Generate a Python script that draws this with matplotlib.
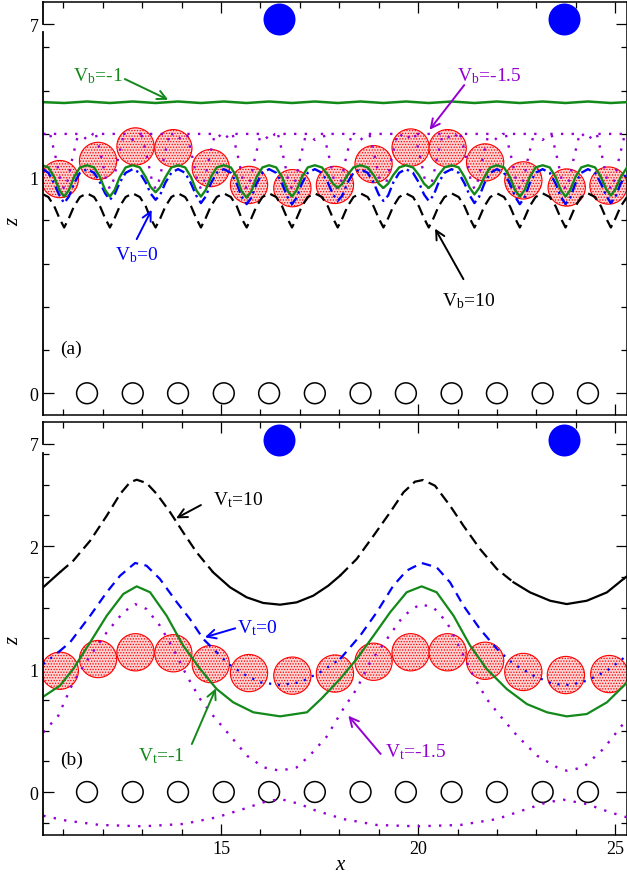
import numpy as np
import matplotlib.pyplot as plt

plt.rcParams['font.family'] = ['Liberation Serif', 'DejaVu Serif']
plt.rcParams['mathtext.fontset'] = 'custom'
plt.rcParams['mathtext.rm'] = 'Liberation Serif'
plt.rcParams['mathtext.it'] = 'Liberation Serif:italic'
plt.rcParams['hatch.color'] = '#ff0000'
plt.rcParams['hatch.linewidth'] = 0.6

nan = np.nan
GREEN = '#13891a'
BLUE = '#0000ff'
PURPLE = '#9400d3'
RED = '#ff0000'

# substrate sites (open circles, z=0) and tip (blue)
sub_x = [11.60, 12.76, 13.91, 15.07, 16.22, 17.38, 18.54, 19.69, 20.85, 22.00, 23.16, 24.31]
tip_x = [16.47, 23.70]
tip_za = 1.731
tip_zb = 2.864

# red particles
part_xa = [10.91, 11.88, 12.83, 13.79, 14.74, 15.71, 16.81, 17.89, 18.87, 19.81, 20.75, 21.70, 22.67, 23.77, 24.83]
part_za = [0.991, 1.075, 1.142, 1.134, 1.042, 0.964, 0.949, 0.964, 1.06, 1.137, 1.134, 1.068, 0.985, 0.952, 0.961]
part_xb = [10.91, 11.88, 12.83, 13.79, 14.74, 15.71, 16.81, 17.89, 18.87, 19.81, 20.75, 21.70, 22.67, 23.75, 24.85]
part_zb = [0.986, 1.081, 1.136, 1.128, 1.04, 0.967, 0.946, 0.963, 1.059, 1.136, 1.136, 1.067, 0.976, 0.951, 0.959]

# ---- panel (a) interfaces ----
xa = [10.49, 10.62, 10.77, 10.90, 11.02, 11.14, 11.27, 11.42, 11.60,
      11.78, 11.93, 12.06, 12.18, 12.30, 12.43, 12.58, 12.76,
      12.94, 13.09, 13.21, 13.34, 13.46, 13.59, 13.74, 13.91,
      14.09, 14.24, 14.37, 14.49, 14.61, 14.74, 14.89, 15.07,
      15.25, 15.40, 15.52, 15.65, 15.77, 15.90, 16.05, 16.22,
      16.40, 16.55, 16.68, 16.80, 16.92, 17.05, 17.20, 17.38,
      17.56, 17.71, 17.84, 17.96, 18.08, 18.21, 18.36, 18.54,
      18.72, 18.87, 19.00, 19.12, 19.24, 19.37, 19.52, 19.69,
      19.87, 20.02, 20.15, 20.27, 20.39, 20.52, 20.67, 20.85,
      21.03, 21.18, 21.31, 21.43, 21.55, 21.68, 21.83, 22.00,
      22.18, 22.33, 22.46, 22.58, 22.70, 22.83, 22.98, 23.16,
      23.34, 23.49, 23.62, 23.74, 23.86, 23.99, 24.14, 24.31,
      24.49, 24.64, 24.77, 24.89, 25.01, 25.14, 25.30]

za_green = [1.053, 1.045, 1.00, 0.94, 0.91, 0.94, 1.00, 1.045, 1.055,
            1.045, 1.00, 0.94, 0.91, 0.94, 1.00, 1.045, 1.055,
            1.045, 1.00, 0.955, 0.93, 0.955, 1.00, 1.045, 1.055,
            1.045, 1.00, 0.94, 0.91, 0.94, 1.00, 1.045, 1.055,
            1.045, 1.00, 0.935, 0.905, 0.935, 1.00, 1.045, 1.055,
            1.045, 1.00, 0.94, 0.91, 0.94, 1.00, 1.045, 1.055,
            1.045, 1.01, 0.97, 0.95, 0.97, 1.01, 1.045, 1.055,
            1.045, 1.01, 0.97, 0.95, 0.97, 1.01, 1.045, 1.055,
            1.045, 1.01, 0.97, 0.95, 0.97, 1.01, 1.045, 1.055,
            1.045, 1.00, 0.95, 0.92, 0.95, 1.00, 1.045, 1.055,
            1.045, 1.00, 0.94, 0.91, 0.94, 1.00, 1.045, 1.055,
            1.045, 1.00, 0.94, 0.91, 0.94, 1.00, 1.045, 1.055,
            1.045, 1.00, 0.945, 0.915, 0.945, 1.00, 1.045]

za_blue = [1.035, 1.02, 0.97, 0.915, 0.88, 0.91, 0.97, 1.02, 1.037,
           1.02, 0.975, 0.925, 0.895, 0.92, 0.975, 1.02, 1.037,
           1.02, 0.975, 0.925, 0.895, 0.92, 0.975, 1.02, 1.037,
           1.02, 0.97, 0.915, 0.88, 0.91, 0.97, 1.02, 1.037,
           1.02, 0.97, 0.91, 0.875, 0.905, 0.97, 1.02, 1.037,
           1.02, 0.97, 0.91, 0.875, 0.905, 0.97, 1.02, 1.037,
           1.02, 0.975, 0.92, 0.89, 0.915, 0.975, 1.02, 1.037,
           1.02, 0.975, 0.92, 0.89, 0.915, 0.975, 1.02, 1.037,
           1.02, 0.975, 0.92, 0.89, 0.915, 0.975, 1.02, 1.037,
           1.02, 0.97, 0.915, 0.88, 0.91, 0.97, 1.02, 1.037,
           1.02, 0.97, 0.91, 0.875, 0.905, 0.97, 1.02, 1.037,
           1.02, 0.97, 0.91, 0.875, 0.905, 0.97, 1.02, 1.037,
           1.02, 0.97, 0.915, 0.88, 0.91, 0.97, 1.02]

za_black = [0.92, 0.908, 0.865, 0.81, 0.767, 0.81, 0.865, 0.908, 0.925,
            0.908, 0.865, 0.81, 0.767, 0.81, 0.865, 0.908, 0.925,
            0.908, 0.865, 0.81, 0.767, 0.81, 0.865, 0.908, 0.925,
            0.908, 0.865, 0.81, 0.767, 0.81, 0.865, 0.908, 0.925,
            0.908, 0.865, 0.81, 0.767, 0.81, 0.865, 0.908, 0.925,
            0.908, 0.865, 0.81, 0.767, 0.81, 0.865, 0.908, 0.925,
            0.908, 0.865, 0.81, 0.767, 0.81, 0.865, 0.908, 0.925,
            0.908, 0.865, 0.81, 0.767, 0.81, 0.865, 0.908, 0.925,
            0.908, 0.865, 0.81, 0.767, 0.81, 0.865, 0.908, 0.925,
            0.908, 0.865, 0.81, 0.767, 0.81, 0.865, 0.908, 0.925,
            0.908, 0.865, 0.81, 0.767, 0.81, 0.865, 0.908, 0.925,
            0.908, 0.865, 0.81, 0.767, 0.81, 0.865, 0.908, 0.925,
            0.908, 0.865, 0.81, 0.767, 0.81, 0.865, 0.908]

# V_b=-1 : flat interface high up
xa_gtop = [10.49, 11.02, 11.60, 12.18, 12.76, 13.34, 13.91, 14.49, 15.07, 15.65, 16.22, 16.80, 17.38,
           17.96, 18.54, 19.12, 19.69, 20.27, 20.85, 21.43, 22.00, 22.58, 23.16, 23.74, 24.31, 24.89, 25.30]
za_gtop = [1.347, 1.343, 1.350, 1.343, 1.350, 1.343, 1.350, 1.343, 1.350, 1.343, 1.350, 1.343, 1.350,
           1.343, 1.350, 1.343, 1.350, 1.343, 1.350, 1.343, 1.350, 1.343, 1.350, 1.343, 1.350, 1.343, 1.347]

# V_b=-1.5 : upper branch and lower loops
xa_ptop = [10.49, 11.45, 11.60, 11.75, 12.61, 12.76, 12.91, 13.76, 13.91, 14.06, 14.92, 15.07, 15.22,
           16.07, 16.22, 16.37, 17.23, 17.38, 17.53, 18.39, 18.54, 18.69, 19.54, 19.69, 19.84,
           20.70, 20.85, 21.00, 21.85, 22.00, 22.15, 23.01, 23.16, 23.31, 24.16, 24.31, 24.46, 25.30]
za_ptop = [1.20, 1.20, 1.172, 1.20, 1.20, 1.172, 1.20, 1.20, 1.172, 1.20, 1.20, 1.172, 1.20,
           1.20, 1.172, 1.20, 1.20, 1.172, 1.20, 1.20, 1.172, 1.20, 1.20, 1.172, 1.20,
           1.20, 1.172, 1.20, 1.20, 1.172, 1.20, 1.20, 1.172, 1.20, 1.20, 1.172, 1.20, 1.20]

xa_ploop = [10.67, 10.82, 10.92, 11.02, 11.12, 11.22, 11.37, nan,
            11.83, 11.98, 12.08, 12.18, 12.28, 12.38, 12.53, nan,
            12.99, 13.14, 13.24, 13.34, 13.44, 13.54, 13.69, nan,
            14.14, 14.29, 14.39, 14.49, 14.59, 14.69, 14.84, nan,
            15.30, 15.45, 15.55, 15.65, 15.75, 15.85, 16.00, nan,
            16.45, 16.60, 16.70, 16.80, 16.90, 17.00, 17.15, nan,
            17.61, 17.76, 17.86, 17.96, 18.06, 18.16, 18.31, nan,
            18.77, 18.92, 19.02, 19.12, 19.22, 19.32, 19.47, nan,
            19.92, 20.07, 20.17, 20.27, 20.37, 20.47, 20.62, nan,
            21.08, 21.23, 21.33, 21.43, 21.53, 21.63, 21.78, nan,
            22.23, 22.38, 22.48, 22.58, 22.68, 22.78, 22.93, nan,
            23.39, 23.54, 23.64, 23.74, 23.84, 23.94, 24.09, nan,
            24.54, 24.69, 24.79, 24.89, 24.99, 25.09, 25.24]
za_ploop = [1.195, 1.08, 0.99, 0.945, 0.99, 1.08, 1.195, nan] * 12 + [1.195, 1.08, 0.99, 0.945, 0.99, 1.08, 1.195]

# ---- panel (b) interfaces ----
xb_black = [10.49, 10.91, 11.25, 11.68, 12.10, 12.44, 12.69, 12.86, 13.11, 13.37, 13.71, 14.04, 14.38, 14.80,
            15.23, 15.65, 16.07, 16.50, 16.92, 17.34, 17.72, 18.02, 18.44, 18.87, 19.29, 19.63, 19.92, 20.13,
            20.43, 20.81, 21.15, 21.57, 22.00, 22.42, 22.84, 23.35, 23.77, 24.28, 24.79, 25.21, 25.30]
zb_black = [1.665, 1.786, 1.88, 2.043, 2.246, 2.423, 2.518, 2.539, 2.512, 2.423, 2.274, 2.111, 1.949, 1.786,
            1.664, 1.583, 1.537, 1.523, 1.542, 1.596, 1.677, 1.759, 1.894, 2.084, 2.274, 2.437, 2.523, 2.537,
            2.49, 2.328, 2.165, 1.976, 1.813, 1.705, 1.623, 1.555, 1.528, 1.555, 1.623, 1.732, 1.755]

xb_blue = [10.49, 10.87, 11.17, 11.68, 12.10, 12.44, 12.82, 13.11, 13.45, 13.88, 14.21, 14.55, 14.89, 15.19,
           15.57, 15.99, 16.50, 17.01, 17.51, 18.02, 18.53, 18.95, 19.37, 19.71, 20.09, 20.47, 20.81, 21.15,
           21.57, 22.00, 22.42, 22.93, 23.43, 23.86, 24.28, 24.79, 25.30]
zb_blue = [1.04, 1.136, 1.217, 1.433, 1.624, 1.759, 1.862, 1.84, 1.732, 1.542, 1.407, 1.244, 1.136, 1.041,
           0.959, 0.892, 0.870, 0.892, 0.973, 1.081, 1.271, 1.461, 1.677, 1.80, 1.862, 1.827, 1.705, 1.515,
           1.325, 1.163, 1.041, 0.946, 0.878, 0.870, 0.905, 0.986, 1.11]

xb_green = [10.49, 10.91, 11.25, 11.68, 12.10, 12.52, 12.86, 13.20, 13.62, 14.04, 14.47, 14.89, 15.31, 15.82,
            16.50, 17.18, 17.55, 18.02, 18.44, 18.87, 19.29, 19.71, 20.09, 20.47, 20.90, 21.32, 21.74, 22.25,
            22.76, 23.27, 23.77, 24.28, 24.79, 25.30]
zb_green = [0.775, 0.864, 1.0, 1.217, 1.433, 1.61, 1.672, 1.624, 1.433, 1.19, 1.0, 0.837, 0.729, 0.648,
            0.615, 0.648, 0.76, 0.919, 1.081, 1.271, 1.461, 1.624, 1.672, 1.624, 1.433, 1.19, 1.0, 0.837,
            0.715, 0.648, 0.615, 0.634, 0.729, 0.89]

xb_pup = [10.49, 10.87, 11.25, 11.68, 12.10, 12.52, 12.82, 13.11, 13.45, 13.79, 14.13, 14.47, 14.80, 15.23,
          15.66, 16.08, 16.50, 16.92, 17.26, 17.68, 18.10, 18.44, 18.78, 19.21, 19.63, 20.05, 20.39, 20.73,
          21.07, 21.40, 21.74, 22.08, 22.51, 23.02, 23.53, 23.77, 24.19, 24.70, 25.30]
zb_pup = [0.485, 0.62, 0.892, 1.108, 1.298, 1.461, 1.528, 1.488, 1.352, 1.163, 0.946, 0.756, 0.62, 0.458,
          0.295, 0.20, 0.173, 0.20, 0.30, 0.45, 0.675, 0.837, 1.054, 1.244, 1.433, 1.528, 1.50, 1.38,
          1.163, 0.946, 0.756, 0.62, 0.458, 0.295, 0.20, 0.173, 0.20, 0.35, 0.593]

xb_plo = [10.49, 11.08, 11.93, 13.03, 14.04, 14.89, 15.57, 16.07, 16.50, 17.01, 17.30, 18.10, 18.95, 19.97,
          21.07, 22.00, 22.76, 23.27, 23.69, 24.28, 24.87, 25.30]
zb_plo = [-0.193, -0.233, -0.268, -0.279, -0.26, -0.206, -0.138, -0.084, -0.057, -0.098, -0.14, -0.22,
          -0.268, -0.279, -0.268, -0.22, -0.138, -0.084, -0.063, -0.098, -0.165, -0.206]


def two_style(ax, x, z, thr, ls_hi, ls_lo, color, lw):
    # style changes with height of the interface
    x = np.asarray(x)
    z = np.asarray(z)
    seg_hi = (z[:-1] + z[1:]) / 2 >= thr
    hi = np.zeros(len(z), bool)
    hi[:-1] |= seg_hi
    hi[1:] |= seg_hi
    lo = np.zeros(len(z), bool)
    lo[:-1] |= ~seg_hi
    lo[1:] |= ~seg_hi
    ax.plot(x, np.where(hi, z, nan), color=color, lw=lw, ls=ls_hi, zorder=4)
    ax.plot(x, np.where(lo, z, nan), color=color, lw=lw, ls=ls_lo, zorder=4)


fig = plt.figure(figsize=(6.27, 8.78), dpi=100)
axa = fig.add_axes([0.069, 0.5262, 0.931, 0.4700])
axb = fig.add_axes([0.069, 0.0482, 0.931, 0.4697])

dots = (0, (1, 3.5))
for ax, px, pz, tz in [(axa, part_xa, part_za, tip_za), (axb, part_xb, part_zb, tip_zb)]:
    ax.scatter(px, pz, s=720, facecolor='#fcd2d2', edgecolor=RED, linewidth=0.8,
               hatch='......', zorder=2)
    ax.scatter(sub_x, [0] * len(sub_x), s=225, facecolor='none', edgecolor='k', linewidth=1.1, zorder=3)
    ax.scatter(tip_x, [tz] * len(tip_x), s=530, color=BLUE, linewidth=0, zorder=3)

# panel (a)
axa.plot(xa_gtop, za_gtop, color=GREEN, lw=1.8, zorder=4)
axa.plot(xa_ptop, za_ptop, color=PURPLE, lw=1.7, ls=dots, zorder=4)
axa.plot(xa_ploop, za_ploop, color=PURPLE, lw=1.7, ls=dots, zorder=4)
axa.plot(xa, za_black, color='k', lw=1.6, ls=(0, (5, 2.6)), zorder=4)
axa.plot(xa, za_blue, color=BLUE, lw=1.7, ls=(0, (4.5, 1.8, 1, 1.8)), zorder=4)
axa.plot(xa, za_green, color=GREEN, lw=1.7, zorder=5)

# panel (b)
two_style(axb, xb_black, zb_black, 1.74, (0, (5, 2.6)), '-', 'k', 1.6)
two_style(axb, xb_blue, zb_blue, 1.15, (0, (4.3, 2.9)), (0, (1, 3)), BLUE, 1.6)
axb.plot(xb_green, zb_green, color=GREEN, lw=1.6, zorder=4)
axb.plot(xb_pup, zb_pup, color=PURPLE, lw=1.7, ls=dots, zorder=4)
axb.plot(xb_plo, zb_plo, color=PURPLE, lw=1.7, ls=dots, zorder=4)

# labels with arrows
fs = 14
notes_a = [(r'V$_{\rm b}$=-1', 11.24, 1.449, GREEN, (12.56, 1.454), (13.66, 1.358)),
           (r'V$_{\rm b}$=-1.5', 20.98, 1.446, PURPLE, (21.17, 1.426), (20.29, 1.219)),
           (r'V$_{\rm b}$=0', 12.31, 0.620, BLUE, (12.86, 0.713), (13.24, 0.849)),
           (r'V$_{\rm b}$=10', 20.60, 0.407, 'k', (21.15, 0.528), (20.43, 0.762))]
notes_b = [(r'V$_{\rm t}$=10', 14.80, 2.341, 'k', (14.49, 2.333), (13.86, 2.225)),
           (r'V$_{\rm t}$=0', 15.40, 1.298, BLUE, (15.36, 1.331), (14.59, 1.258)),
           (r'V$_{\rm t}$=-1', 12.90, 0.255, GREEN, (14.26, 0.39), (14.87, 0.843)),
           (r'V$_{\rm t}$=-1.5', 19.16, 0.29, PURPLE, (19.05, 0.309), (18.23, 0.62))]
for ax, notes in [(axa, notes_a), (axb, notes_b)]:
    for txt, tx, tz, c, tail, head in notes:
        ax.text(tx, tz, txt, color=c, fontsize=fs, ha='left', va='baseline', zorder=6)
        ax.annotate('', xy=head, xytext=tail, zorder=6,
                    arrowprops=dict(arrowstyle='->', color=c, lw=1.4, mutation_scale=16,
                                    shrinkA=0, shrinkB=0))
axa.text(10.91, 0.208, '(a)', fontsize=14, va='center', ha='left')
axb.text(10.91, 0.268, '(b)', fontsize=14, va='center', ha='left')

# axes, ticks, broken left spine
setups = [(axa, (-0.1005, 1.8088), [0, 1, 1.708], ['0', '1', '7'],
           [0.2, 0.4, 0.6, 0.8, 1.2, 1.4, 1.6], 1.673),
          (axb, (-0.347, 3.006), [0, 1, 2, 2.83], ['0', '1', '2', '7'],
           [-0.25, 0.25, 0.5, 0.75, 1.25, 1.5, 1.75, 2.25, 2.5, 2.75], 2.756)]
for ax, ylim, maj, lab, mino, brk in setups:
    ax.set_xlim(10.49, 25.30)
    ax.set_ylim(*ylim)
    ax.set_yticks(maj)
    ax.set_yticklabels(lab)
    ax.set_yticks(mino, minor=True)
    ax.set_xticks([15, 20, 25])
    ax.set_xticks(range(11, 26), minor=True)
    ax.tick_params(which='both', direction='in', top=True, right=True, width=0.9, labelsize=13)
    ax.tick_params(which='major', length=8)
    ax.tick_params(which='minor', length=4.3)
    for s in ['top', 'bottom', 'right']:
        ax.spines[s].set_linewidth(1.1)
    ax.spines['left'].set_visible(False)
    tr = ax.get_yaxis_transform()
    ax.plot([0, 0], [ylim[0], brk], transform=tr, color='k', lw=1.3, clip_on=False, zorder=7)
    ax.plot([0, 0], [maj[-1], ylim[1]], transform=tr, color='k', lw=1.3, clip_on=False, zorder=7)

axa.tick_params(labelbottom=False)
axb.set_xticklabels(['15', '20', '25'])

fig.text(13.5 / 627, 1 - 222 / 878, 'z', rotation=90, fontsize=15, style='italic', ha='center', va='center')
fig.text(13.5 / 627, 1 - 641 / 878, 'z', rotation=90, fontsize=15, style='italic', ha='center', va='center')
fig.text(339.5 / 627, 1 - 866 / 878, 'x', fontsize=15, style='italic', ha='center', va='center')

fig.savefig('out.png', dpi=100)
